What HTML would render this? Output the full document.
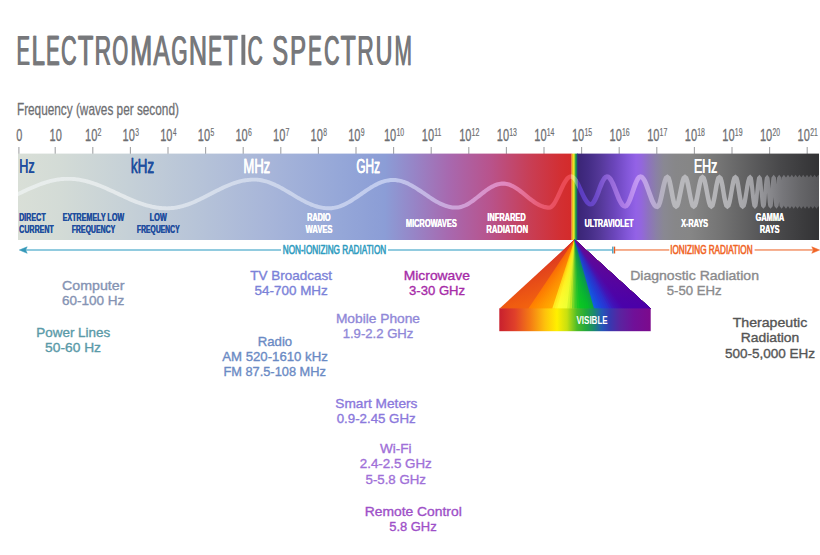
<!DOCTYPE html>
<html><head><meta charset="utf-8"><title>Electromagnetic Spectrum</title>
<style>html,body{margin:0;padding:0;background:#fff;}body{width:820px;height:555px;overflow:hidden;font-family:"Liberation Sans",sans-serif;}svg{display:block;}text{font-family:"Liberation Sans",sans-serif;}</style>
</head><body>
<svg width="820" height="555" viewBox="0 0 820 555">
<defs>
<linearGradient id="gL" gradientUnits="userSpaceOnUse" x1="18" y1="0" x2="571" y2="0"><stop offset="0.0000" stop-color="#d9dfd7"/><stop offset="0.0759" stop-color="#d3dbd6"/><stop offset="0.2025" stop-color="#c5d0d7"/><stop offset="0.3291" stop-color="#b6c3d8"/><stop offset="0.4557" stop-color="#a7b5d9"/><stop offset="0.5823" stop-color="#95a7d8"/><stop offset="0.6637" stop-color="#8b9dd6"/><stop offset="0.7179" stop-color="#9784c6"/><stop offset="0.7812" stop-color="#a868ae"/><stop offset="0.8535" stop-color="#b8538c"/><stop offset="0.9259" stop-color="#c83e55"/><stop offset="0.9801" stop-color="#d22f33"/><stop offset="1.0000" stop-color="#d42b2b"/></linearGradient>
<linearGradient id="gS" gradientUnits="userSpaceOnUse" x1="571.3" y1="0" x2="577.6" y2="0"><stop offset="0.0000" stop-color="#e0702a"/><stop offset="0.1587" stop-color="#f0b01e"/><stop offset="0.3651" stop-color="#ece428"/><stop offset="0.5238" stop-color="#a8d030"/><stop offset="0.6825" stop-color="#2ca444"/><stop offset="0.8413" stop-color="#1c7a58"/><stop offset="1.0000" stop-color="#2a3a80"/></linearGradient>
<linearGradient id="gR" gradientUnits="userSpaceOnUse" x1="577.5" y1="0" x2="819" y2="0"><stop offset="0.0000" stop-color="#3a2575"/><stop offset="0.0435" stop-color="#432c84"/><stop offset="0.0932" stop-color="#543898"/><stop offset="0.1553" stop-color="#6c46bc"/><stop offset="0.2091" stop-color="#8458da"/><stop offset="0.2422" stop-color="#9362e6"/><stop offset="0.2629" stop-color="#9366de"/><stop offset="0.2919" stop-color="#8e72c0"/><stop offset="0.3251" stop-color="#8a80a6"/><stop offset="0.3582" stop-color="#898892"/><stop offset="0.4037" stop-color="#878789"/><stop offset="0.4658" stop-color="#868686"/><stop offset="0.5901" stop-color="#747474"/><stop offset="0.7143" stop-color="#5e5e5f"/><stop offset="0.8385" stop-color="#48484a"/><stop offset="0.9420" stop-color="#3a3a3c"/><stop offset="1.0000" stop-color="#333335"/></linearGradient>
<linearGradient id="gW" gradientUnits="userSpaceOnUse" x1="18" y1="0" x2="819" y2="0"><stop offset="0.0000" stop-color="#e9eeec"/><stop offset="0.1273" stop-color="#e4e9eb"/><stop offset="0.2272" stop-color="#d7dfeb"/><stop offset="0.3521" stop-color="#c8d2eb"/><stop offset="0.4644" stop-color="#bfcaee"/><stop offset="0.5144" stop-color="#c4b2e2"/><stop offset="0.5643" stop-color="#d29ad2"/><stop offset="0.6080" stop-color="#e088c0"/><stop offset="0.6517" stop-color="#e85c74"/><stop offset="0.6792" stop-color="#ea4a56"/><stop offset="0.6901" stop-color="#ec4a50"/><stop offset="0.6909" stop-color="#ffffff" stop-opacity="0.32"/><stop offset="0.6984" stop-color="#ffffff" stop-opacity="0.3"/><stop offset="0.6994" stop-color="#5234b4"/><stop offset="0.7016" stop-color="#5a3cc0"/><stop offset="0.7203" stop-color="#6a48c8"/><stop offset="0.7391" stop-color="#9468d8"/><stop offset="0.7578" stop-color="#b07ee8"/><stop offset="0.7740" stop-color="#c49af4"/><stop offset="0.7890" stop-color="#bca8dc"/><stop offset="0.8040" stop-color="#b4b0c0"/><stop offset="0.8165" stop-color="#b8b8bc"/><stop offset="0.8514" stop-color="#b8b8bb"/><stop offset="0.8889" stop-color="#b0b0b3"/><stop offset="0.9201" stop-color="#a0a0a4"/><stop offset="0.9388" stop-color="#88888c"/><stop offset="0.9538" stop-color="#77777b"/><stop offset="0.9763" stop-color="#666669"/><stop offset="1.0000" stop-color="#58585b"/></linearGradient>
<linearGradient id="gV" gradientUnits="userSpaceOnUse" x1="499.3" y1="0" x2="650.7" y2="0"><stop offset="0.0000" stop-color="#c8202e"/><stop offset="0.1037" stop-color="#e0402a"/><stop offset="0.2028" stop-color="#f47a14"/><stop offset="0.3018" stop-color="#fec20c"/><stop offset="0.3811" stop-color="#fff000"/><stop offset="0.4472" stop-color="#c8e010"/><stop offset="0.5132" stop-color="#4cbc28"/><stop offset="0.5727" stop-color="#22a83c"/><stop offset="0.6255" stop-color="#1a8870"/><stop offset="0.6783" stop-color="#2458b8"/><stop offset="0.7312" stop-color="#3838b0"/><stop offset="0.7972" stop-color="#5a24a0"/><stop offset="0.8897" stop-color="#701098"/><stop offset="1.0000" stop-color="#7c0a8c"/></linearGradient>
<clipPath id="cb"><rect x="18" y="153.6" width="801" height="86.4"/></clipPath>
</defs>
<text transform="translate(16.36,64.80) scale(0.4587,1)" font-size="43.4" fill="#77787b" font-weight="normal" stroke="#77787b" stroke-width="0.25" stroke-linejoin="round">E</text><text transform="translate(17.06,64.80) scale(0.4587,1)" font-size="43.4" fill="#77787b" font-weight="normal" stroke="#77787b" stroke-width="0.25" stroke-linejoin="round">E</text>
<text transform="translate(31.27,64.80) scale(0.5525,1)" font-size="43.4" fill="#77787b" font-weight="normal" stroke="#77787b" stroke-width="0.25" stroke-linejoin="round">L</text><text transform="translate(31.97,64.80) scale(0.5525,1)" font-size="43.4" fill="#77787b" font-weight="normal" stroke="#77787b" stroke-width="0.25" stroke-linejoin="round">L</text>
<text transform="translate(45.82,64.80) scale(0.4693,1)" font-size="43.4" fill="#77787b" font-weight="normal" stroke="#77787b" stroke-width="0.25" stroke-linejoin="round">E</text><text transform="translate(46.52,64.80) scale(0.4693,1)" font-size="43.4" fill="#77787b" font-weight="normal" stroke="#77787b" stroke-width="0.25" stroke-linejoin="round">E</text>
<text transform="translate(60.66,64.80) scale(0.5027,1)" font-size="43.4" fill="#77787b" font-weight="normal" stroke="#77787b" stroke-width="0.25" stroke-linejoin="round">C</text><text transform="translate(61.36,64.80) scale(0.5027,1)" font-size="43.4" fill="#77787b" font-weight="normal" stroke="#77787b" stroke-width="0.25" stroke-linejoin="round">C</text>
<text transform="translate(77.43,64.80) scale(0.5832,1)" font-size="43.4" fill="#77787b" font-weight="normal" stroke="#77787b" stroke-width="0.25" stroke-linejoin="round">T</text><text transform="translate(78.13,64.80) scale(0.5832,1)" font-size="43.4" fill="#77787b" font-weight="normal" stroke="#77787b" stroke-width="0.25" stroke-linejoin="round">T</text>
<text transform="translate(94.36,64.80) scale(0.5269,1)" font-size="43.4" fill="#77787b" font-weight="normal" stroke="#77787b" stroke-width="0.25" stroke-linejoin="round">R</text><text transform="translate(95.06,64.80) scale(0.5269,1)" font-size="43.4" fill="#77787b" font-weight="normal" stroke="#77787b" stroke-width="0.25" stroke-linejoin="round">R</text>
<text transform="translate(112.04,64.80) scale(0.4659,1)" font-size="43.4" fill="#77787b" font-weight="normal" stroke="#77787b" stroke-width="0.25" stroke-linejoin="round">O</text><text transform="translate(112.74,64.80) scale(0.4659,1)" font-size="43.4" fill="#77787b" font-weight="normal" stroke="#77787b" stroke-width="0.25" stroke-linejoin="round">O</text>
<text transform="translate(129.80,64.80) scale(0.6144,1)" font-size="43.4" fill="#77787b" font-weight="normal" stroke="#77787b" stroke-width="0.25" stroke-linejoin="round">M</text><text transform="translate(130.50,64.80) scale(0.6144,1)" font-size="43.4" fill="#77787b" font-weight="normal" stroke="#77787b" stroke-width="0.25" stroke-linejoin="round">M</text>
<text transform="translate(152.94,64.80) scale(0.5669,1)" font-size="43.4" fill="#77787b" font-weight="normal" stroke="#77787b" stroke-width="0.25" stroke-linejoin="round">A</text><text transform="translate(153.64,64.80) scale(0.5669,1)" font-size="43.4" fill="#77787b" font-weight="normal" stroke="#77787b" stroke-width="0.25" stroke-linejoin="round">A</text>
<text transform="translate(170.96,64.80) scale(0.4785,1)" font-size="43.4" fill="#77787b" font-weight="normal" stroke="#77787b" stroke-width="0.25" stroke-linejoin="round">G</text><text transform="translate(171.66,64.80) scale(0.4785,1)" font-size="43.4" fill="#77787b" font-weight="normal" stroke="#77787b" stroke-width="0.25" stroke-linejoin="round">G</text>
<text transform="translate(188.43,64.80) scale(0.5786,1)" font-size="43.4" fill="#77787b" font-weight="normal" stroke="#77787b" stroke-width="0.25" stroke-linejoin="round">N</text><text transform="translate(189.13,64.80) scale(0.5786,1)" font-size="43.4" fill="#77787b" font-weight="normal" stroke="#77787b" stroke-width="0.25" stroke-linejoin="round">N</text>
<text transform="translate(207.68,64.80) scale(0.4799,1)" font-size="43.4" fill="#77787b" font-weight="normal" stroke="#77787b" stroke-width="0.25" stroke-linejoin="round">E</text><text transform="translate(208.38,64.80) scale(0.4799,1)" font-size="43.4" fill="#77787b" font-weight="normal" stroke="#77787b" stroke-width="0.25" stroke-linejoin="round">E</text>
<text transform="translate(223.07,64.80) scale(0.5424,1)" font-size="43.4" fill="#77787b" font-weight="normal" stroke="#77787b" stroke-width="0.25" stroke-linejoin="round">T</text><text transform="translate(223.77,64.80) scale(0.5424,1)" font-size="43.4" fill="#77787b" font-weight="normal" stroke="#77787b" stroke-width="0.25" stroke-linejoin="round">T</text>
<rect x="241.40" y="34.8" width="3.90" height="30.1" fill="#77787b"/>
<text transform="translate(247.26,64.80) scale(0.4809,1)" font-size="43.4" fill="#77787b" font-weight="normal" stroke="#77787b" stroke-width="0.25" stroke-linejoin="round">C</text><text transform="translate(247.96,64.80) scale(0.4809,1)" font-size="43.4" fill="#77787b" font-weight="normal" stroke="#77787b" stroke-width="0.25" stroke-linejoin="round">C</text>
<text transform="translate(271.94,64.80) scale(0.5410,1)" font-size="43.4" fill="#77787b" font-weight="normal" stroke="#77787b" stroke-width="0.25" stroke-linejoin="round">S</text><text transform="translate(272.64,64.80) scale(0.5410,1)" font-size="43.4" fill="#77787b" font-weight="normal" stroke="#77787b" stroke-width="0.25" stroke-linejoin="round">S</text>
<text transform="translate(289.83,64.80) scale(0.5495,1)" font-size="43.4" fill="#77787b" font-weight="normal" stroke="#77787b" stroke-width="0.25" stroke-linejoin="round">P</text><text transform="translate(290.53,64.80) scale(0.5495,1)" font-size="43.4" fill="#77787b" font-weight="normal" stroke="#77787b" stroke-width="0.25" stroke-linejoin="round">P</text>
<text transform="translate(307.81,64.80) scale(0.4714,1)" font-size="43.4" fill="#77787b" font-weight="normal" stroke="#77787b" stroke-width="0.25" stroke-linejoin="round">E</text><text transform="translate(308.51,64.80) scale(0.4714,1)" font-size="43.4" fill="#77787b" font-weight="normal" stroke="#77787b" stroke-width="0.25" stroke-linejoin="round">E</text>
<text transform="translate(323.73,64.80) scale(0.4918,1)" font-size="43.4" fill="#77787b" font-weight="normal" stroke="#77787b" stroke-width="0.25" stroke-linejoin="round">C</text><text transform="translate(324.43,64.80) scale(0.4918,1)" font-size="43.4" fill="#77787b" font-weight="normal" stroke="#77787b" stroke-width="0.25" stroke-linejoin="round">C</text>
<text transform="translate(340.34,64.80) scale(0.5709,1)" font-size="43.4" fill="#77787b" font-weight="normal" stroke="#77787b" stroke-width="0.25" stroke-linejoin="round">T</text><text transform="translate(341.04,64.80) scale(0.5709,1)" font-size="43.4" fill="#77787b" font-weight="normal" stroke="#77787b" stroke-width="0.25" stroke-linejoin="round">T</text>
<text transform="translate(356.91,64.80) scale(0.5289,1)" font-size="43.4" fill="#77787b" font-weight="normal" stroke="#77787b" stroke-width="0.25" stroke-linejoin="round">R</text><text transform="translate(357.61,64.80) scale(0.5289,1)" font-size="43.4" fill="#77787b" font-weight="normal" stroke="#77787b" stroke-width="0.25" stroke-linejoin="round">R</text>
<text transform="translate(375.30,64.80) scale(0.5359,1)" font-size="43.4" fill="#77787b" font-weight="normal" stroke="#77787b" stroke-width="0.25" stroke-linejoin="round">U</text><text transform="translate(376.00,64.80) scale(0.5359,1)" font-size="43.4" fill="#77787b" font-weight="normal" stroke="#77787b" stroke-width="0.25" stroke-linejoin="round">U</text>
<text transform="translate(394.17,64.80) scale(0.4833,1)" font-size="43.4" fill="#77787b" font-weight="normal" stroke="#77787b" stroke-width="0.25" stroke-linejoin="round">M</text><text transform="translate(394.87,64.80) scale(0.4833,1)" font-size="43.4" fill="#77787b" font-weight="normal" stroke="#77787b" stroke-width="0.25" stroke-linejoin="round">M</text>
<text transform="translate(16.93,115.10) scale(0.6783,1)" font-size="17.4" fill="#6d6e71" font-weight="normal" stroke="#6d6e71" stroke-width="0.3" stroke-linejoin="round">Frequency (waves per second)</text>
<rect x="18.35" y="147" width="1.1" height="7" fill="#a3a4a6"/>
<text transform="translate(16.26,141.20) scale(0.6331,1)" font-size="17.2" fill="#6d6e71" font-weight="normal" stroke="#6d6e71" stroke-width="0.3" stroke-linejoin="round">0</text>
<rect x="54.65" y="147" width="1.1" height="7" fill="#a3a4a6"/>
<text transform="translate(49.57,141.20) scale(0.6411,1)" font-size="17.2" fill="#6d6e71" font-weight="normal" stroke="#6d6e71" stroke-width="0.3" stroke-linejoin="round">10</text>
<rect x="92.25" y="147" width="1.1" height="7" fill="#a3a4a6"/>
<text transform="translate(85.02,141.20) scale(0.6411,1)" font-size="17.2" fill="#6d6e71" font-weight="normal" stroke="#6d6e71" stroke-width="0.3" stroke-linejoin="round">10</text>
<text transform="translate(97.60,136.30) scale(0.6279,1)" font-size="11.2" fill="#6d6e71" font-weight="normal" stroke="#6d6e71" stroke-width="0.2" stroke-linejoin="round">2</text>
<rect x="129.85" y="147" width="1.1" height="7" fill="#a3a4a6"/>
<text transform="translate(122.62,141.20) scale(0.6411,1)" font-size="17.2" fill="#6d6e71" font-weight="normal" stroke="#6d6e71" stroke-width="0.3" stroke-linejoin="round">10</text>
<text transform="translate(135.30,136.30) scale(0.6015,1)" font-size="11.2" fill="#6d6e71" font-weight="normal" stroke="#6d6e71" stroke-width="0.2" stroke-linejoin="round">3</text>
<rect x="167.45" y="147" width="1.1" height="7" fill="#a3a4a6"/>
<text transform="translate(160.22,141.20) scale(0.6411,1)" font-size="17.2" fill="#6d6e71" font-weight="normal" stroke="#6d6e71" stroke-width="0.3" stroke-linejoin="round">10</text>
<text transform="translate(173.01,136.30) scale(0.5658,1)" font-size="11.2" fill="#6d6e71" font-weight="normal" stroke="#6d6e71" stroke-width="0.2" stroke-linejoin="round">4</text>
<rect x="205.05" y="147" width="1.1" height="7" fill="#a3a4a6"/>
<text transform="translate(197.82,141.20) scale(0.6411,1)" font-size="17.2" fill="#6d6e71" font-weight="normal" stroke="#6d6e71" stroke-width="0.3" stroke-linejoin="round">10</text>
<text transform="translate(210.48,136.30) scale(0.6015,1)" font-size="11.2" fill="#6d6e71" font-weight="normal" stroke="#6d6e71" stroke-width="0.2" stroke-linejoin="round">5</text>
<rect x="242.65" y="147" width="1.1" height="7" fill="#a3a4a6"/>
<text transform="translate(235.42,141.20) scale(0.6411,1)" font-size="17.2" fill="#6d6e71" font-weight="normal" stroke="#6d6e71" stroke-width="0.3" stroke-linejoin="round">10</text>
<text transform="translate(248.00,136.30) scale(0.6178,1)" font-size="11.2" fill="#6d6e71" font-weight="normal" stroke="#6d6e71" stroke-width="0.2" stroke-linejoin="round">6</text>
<rect x="280.25" y="147" width="1.1" height="7" fill="#a3a4a6"/>
<text transform="translate(273.02,141.20) scale(0.6411,1)" font-size="17.2" fill="#6d6e71" font-weight="normal" stroke="#6d6e71" stroke-width="0.3" stroke-linejoin="round">10</text>
<text transform="translate(285.58,136.30) scale(0.6314,1)" font-size="11.2" fill="#6d6e71" font-weight="normal" stroke="#6d6e71" stroke-width="0.2" stroke-linejoin="round">7</text>
<rect x="317.85" y="147" width="1.1" height="7" fill="#a3a4a6"/>
<text transform="translate(310.62,141.20) scale(0.6411,1)" font-size="17.2" fill="#6d6e71" font-weight="normal" stroke="#6d6e71" stroke-width="0.3" stroke-linejoin="round">10</text>
<text transform="translate(323.26,136.30) scale(0.6079,1)" font-size="11.2" fill="#6d6e71" font-weight="normal" stroke="#6d6e71" stroke-width="0.2" stroke-linejoin="round">8</text>
<rect x="355.45" y="147" width="1.1" height="7" fill="#a3a4a6"/>
<text transform="translate(348.22,141.20) scale(0.6411,1)" font-size="17.2" fill="#6d6e71" font-weight="normal" stroke="#6d6e71" stroke-width="0.3" stroke-linejoin="round">10</text>
<text transform="translate(360.82,136.30) scale(0.6178,1)" font-size="11.2" fill="#6d6e71" font-weight="normal" stroke="#6d6e71" stroke-width="0.2" stroke-linejoin="round">9</text>
<rect x="393.05" y="147" width="1.1" height="7" fill="#a3a4a6"/>
<text transform="translate(383.97,141.20) scale(0.6411,1)" font-size="17.2" fill="#6d6e71" font-weight="normal" stroke="#6d6e71" stroke-width="0.3" stroke-linejoin="round">10</text>
<text transform="translate(396.38,136.30) scale(0.6176,1)" font-size="11.2" fill="#6d6e71" font-weight="normal" stroke="#6d6e71" stroke-width="0.2" stroke-linejoin="round">10</text>
<rect x="430.65" y="147" width="1.1" height="7" fill="#a3a4a6"/>
<text transform="translate(421.87,141.20) scale(0.6411,1)" font-size="17.2" fill="#6d6e71" font-weight="normal" stroke="#6d6e71" stroke-width="0.3" stroke-linejoin="round">10</text>
<text transform="translate(434.28,136.30) scale(0.6148,1)" font-size="11.2" fill="#6d6e71" font-weight="normal" stroke="#6d6e71" stroke-width="0.2" stroke-linejoin="round">11</text>
<rect x="468.25" y="147" width="1.1" height="7" fill="#a3a4a6"/>
<text transform="translate(459.17,141.20) scale(0.6411,1)" font-size="17.2" fill="#6d6e71" font-weight="normal" stroke="#6d6e71" stroke-width="0.3" stroke-linejoin="round">10</text>
<text transform="translate(471.57,136.30) scale(0.6255,1)" font-size="11.2" fill="#6d6e71" font-weight="normal" stroke="#6d6e71" stroke-width="0.2" stroke-linejoin="round">12</text>
<rect x="505.85" y="147" width="1.1" height="7" fill="#a3a4a6"/>
<text transform="translate(496.77,141.20) scale(0.6411,1)" font-size="17.2" fill="#6d6e71" font-weight="normal" stroke="#6d6e71" stroke-width="0.3" stroke-linejoin="round">10</text>
<text transform="translate(509.18,136.30) scale(0.6207,1)" font-size="11.2" fill="#6d6e71" font-weight="normal" stroke="#6d6e71" stroke-width="0.2" stroke-linejoin="round">13</text>
<rect x="543.45" y="147" width="1.1" height="7" fill="#a3a4a6"/>
<text transform="translate(534.37,141.20) scale(0.6411,1)" font-size="17.2" fill="#6d6e71" font-weight="normal" stroke="#6d6e71" stroke-width="0.3" stroke-linejoin="round">10</text>
<text transform="translate(546.79,136.30) scale(0.6115,1)" font-size="11.2" fill="#6d6e71" font-weight="normal" stroke="#6d6e71" stroke-width="0.2" stroke-linejoin="round">14</text>
<rect x="581.05" y="147" width="1.1" height="7" fill="#a3a4a6"/>
<text transform="translate(571.97,141.20) scale(0.6411,1)" font-size="17.2" fill="#6d6e71" font-weight="normal" stroke="#6d6e71" stroke-width="0.3" stroke-linejoin="round">10</text>
<text transform="translate(584.38,136.30) scale(0.6192,1)" font-size="11.2" fill="#6d6e71" font-weight="normal" stroke="#6d6e71" stroke-width="0.2" stroke-linejoin="round">15</text>
<rect x="618.65" y="147" width="1.1" height="7" fill="#a3a4a6"/>
<text transform="translate(609.57,141.20) scale(0.6411,1)" font-size="17.2" fill="#6d6e71" font-weight="normal" stroke="#6d6e71" stroke-width="0.3" stroke-linejoin="round">10</text>
<text transform="translate(621.98,136.30) scale(0.6207,1)" font-size="11.2" fill="#6d6e71" font-weight="normal" stroke="#6d6e71" stroke-width="0.2" stroke-linejoin="round">16</text>
<rect x="656.25" y="147" width="1.1" height="7" fill="#a3a4a6"/>
<text transform="translate(647.17,141.20) scale(0.6411,1)" font-size="17.2" fill="#6d6e71" font-weight="normal" stroke="#6d6e71" stroke-width="0.3" stroke-linejoin="round">10</text>
<text transform="translate(659.57,136.30) scale(0.6255,1)" font-size="11.2" fill="#6d6e71" font-weight="normal" stroke="#6d6e71" stroke-width="0.2" stroke-linejoin="round">17</text>
<rect x="693.85" y="147" width="1.1" height="7" fill="#a3a4a6"/>
<text transform="translate(684.77,141.20) scale(0.6411,1)" font-size="17.2" fill="#6d6e71" font-weight="normal" stroke="#6d6e71" stroke-width="0.3" stroke-linejoin="round">10</text>
<text transform="translate(697.18,136.30) scale(0.6207,1)" font-size="11.2" fill="#6d6e71" font-weight="normal" stroke="#6d6e71" stroke-width="0.2" stroke-linejoin="round">18</text>
<rect x="731.45" y="147" width="1.1" height="7" fill="#a3a4a6"/>
<text transform="translate(722.37,141.20) scale(0.6411,1)" font-size="17.2" fill="#6d6e71" font-weight="normal" stroke="#6d6e71" stroke-width="0.3" stroke-linejoin="round">10</text>
<text transform="translate(734.78,136.30) scale(0.6223,1)" font-size="11.2" fill="#6d6e71" font-weight="normal" stroke="#6d6e71" stroke-width="0.2" stroke-linejoin="round">19</text>
<rect x="769.05" y="147" width="1.1" height="7" fill="#a3a4a6"/>
<text transform="translate(759.97,141.20) scale(0.6411,1)" font-size="17.2" fill="#6d6e71" font-weight="normal" stroke="#6d6e71" stroke-width="0.3" stroke-linejoin="round">10</text>
<text transform="translate(772.56,136.30) scale(0.6025,1)" font-size="11.2" fill="#6d6e71" font-weight="normal" stroke="#6d6e71" stroke-width="0.2" stroke-linejoin="round">20</text>
<rect x="806.65" y="147" width="1.1" height="7" fill="#a3a4a6"/>
<text transform="translate(797.57,141.20) scale(0.6411,1)" font-size="17.2" fill="#6d6e71" font-weight="normal" stroke="#6d6e71" stroke-width="0.3" stroke-linejoin="round">10</text>
<text transform="translate(810.16,136.30) scale(0.6085,1)" font-size="11.2" fill="#6d6e71" font-weight="normal" stroke="#6d6e71" stroke-width="0.2" stroke-linejoin="round">21</text>
<rect x="18" y="153.6" width="553.5" height="86.4" fill="url(#gL)"/>
<rect x="577" y="153.6" width="242" height="86.4" fill="url(#gR)"/>
<rect x="571.3" y="153.6" width="6.5" height="86.4" fill="url(#gS)"/>
<g clip-path="url(#cb)"><path d="M16.8,196.7 L18.0,196.2 L19.2,195.6 L20.4,195.0 L21.6,194.5 L22.9,193.9 L24.1,193.3 L25.3,192.8 L26.5,192.2 L27.7,191.6 L28.9,191.1 L30.1,190.6 L31.3,190.0 L32.5,189.5 L33.7,189.0 L34.9,188.5 L36.1,188.0 L37.3,187.5 L38.5,187.0 L39.7,186.6 L40.8,186.1 L42.0,185.7 L43.2,185.3 L44.4,184.9 L45.6,184.5 L46.8,184.1 L48.0,183.8 L49.2,183.4 L50.3,183.1 L51.5,182.8 L52.7,182.5 L53.9,182.3 L55.1,182.0 L56.2,181.8 L57.4,181.6 L58.6,181.4 L59.8,181.3 L61.0,181.1 L62.1,181.0 L63.3,180.9 L64.5,180.8 L65.7,180.8 L66.8,180.8 L68.0,180.7 L69.2,180.8 L70.3,180.8 L71.5,180.8 L72.7,180.9 L73.9,181.0 L75.0,181.1 L76.2,181.3 L77.4,181.4 L78.6,181.6 L79.7,181.8 L80.9,182.0 L82.1,182.2 L83.3,182.5 L84.4,182.8 L85.6,183.1 L86.8,183.4 L88.0,183.7 L89.2,184.0 L90.4,184.4 L91.5,184.8 L92.7,185.2 L93.9,185.6 L95.1,186.0 L96.3,186.4 L97.5,186.9 L98.7,187.3 L99.9,187.8 L101.1,188.3 L102.3,188.8 L103.5,189.3 L104.7,189.8 L105.8,190.3 L107.0,190.9 L108.2,191.4 L109.4,192.0 L110.6,192.5 L111.9,193.1 L113.1,193.6 L114.3,194.2 L115.5,194.8 L116.7,195.3 L117.9,195.9 L119.1,196.4 L120.3,197.0 L121.5,197.6 L122.7,198.1 L123.9,198.7 L125.1,199.2 L126.4,199.8 L127.6,200.3 L128.8,200.9 L130.0,201.4 L131.2,201.9 L132.5,202.4 L133.7,202.9 L134.9,203.4 L136.1,203.9 L137.3,204.3 L138.6,204.8 L139.8,205.2 L141.0,205.6 L142.3,206.0 L143.5,206.4 L144.7,206.8 L145.9,207.2 L147.2,207.5 L148.4,207.8 L149.6,208.1 L150.9,208.4 L152.1,208.7 L153.4,208.9 L154.6,209.2 L155.8,209.4 L157.1,209.5 L158.3,209.7 L159.5,209.9 L160.8,210.0 L162.0,210.1 L163.3,210.1 L164.5,210.2 L165.8,210.2 L167.0,210.2 L168.3,210.2 L169.5,210.2 L170.8,210.1 L172.0,210.0 L173.3,209.9 L174.5,209.7 L175.8,209.6 L177.0,209.4 L178.3,209.1 L179.5,208.9 L180.7,208.6 L182.0,208.3 L183.2,207.9 L184.5,207.6 L185.7,207.2 L186.9,206.8 L188.2,206.4 L189.4,205.9 L190.7,205.5 L191.9,205.0 L193.1,204.5 L194.3,204.0 L195.6,203.4 L196.8,202.9 L198.0,202.3 L199.2,201.8 L200.5,201.2 L201.7,200.6 L202.9,200.0 L204.1,199.4 L205.3,198.8 L206.6,198.2 L207.8,197.6 L209.0,196.9 L210.2,196.3 L211.4,195.7 L212.6,195.1 L213.8,194.4 L215.0,193.8 L216.2,193.2 L217.4,192.6 L218.6,192.0 L219.8,191.4 L221.0,190.8 L222.2,190.2 L223.4,189.7 L224.6,189.1 L225.8,188.6 L227.0,188.0 L228.2,187.5 L229.4,187.0 L230.6,186.5 L231.7,186.1 L232.9,185.6 L234.1,185.2 L235.3,184.8 L236.5,184.4 L237.6,184.1 L238.8,183.7 L240.0,183.4 L241.2,183.1 L242.3,182.8 L243.5,182.6 L244.7,182.4 L245.8,182.2 L247.0,182.0 L248.2,181.9 L249.3,181.8 L250.5,181.7 L251.7,181.6 L252.8,181.6 L254.0,181.5 L255.2,181.6 L256.3,181.6 L257.5,181.7 L258.6,181.8 L259.8,182.0 L260.9,182.2 L262.1,182.4 L263.2,182.7 L264.4,183.0 L265.6,183.3 L266.7,183.6 L267.9,184.0 L269.1,184.4 L270.2,184.9 L271.4,185.4 L272.6,185.9 L273.8,186.4 L274.9,186.9 L276.1,187.5 L277.3,188.1 L278.5,188.7 L279.7,189.3 L280.9,190.0 L282.1,190.7 L283.3,191.3 L284.5,192.0 L285.7,192.7 L286.9,193.5 L288.1,194.2 L289.3,194.9 L290.5,195.6 L291.7,196.3 L292.9,197.1 L294.1,197.8 L295.3,198.5 L296.6,199.2 L297.8,199.9 L299.0,200.6 L300.2,201.3 L301.5,202.0 L302.7,202.6 L303.9,203.3 L305.2,203.9 L306.4,204.5 L307.6,205.1 L308.9,205.6 L310.1,206.2 L311.4,206.7 L312.6,207.1 L313.8,207.6 L315.1,208.0 L316.4,208.4 L317.6,208.7 L318.9,209.0 L320.1,209.3 L321.4,209.6 L322.7,209.8 L323.9,210.0 L325.2,210.1 L326.5,210.2 L327.7,210.2 L329.0,210.3 L330.3,210.2 L331.6,210.2 L332.9,210.0 L334.1,209.8 L335.4,209.6 L336.7,209.3 L338.0,209.0 L339.3,208.6 L340.5,208.2 L341.8,207.7 L343.0,207.2 L344.3,206.7 L345.6,206.1 L346.8,205.5 L348.0,204.8 L349.3,204.1 L350.5,203.4 L351.8,202.7 L353.0,201.9 L354.2,201.1 L355.4,200.3 L356.7,199.5 L357.9,198.7 L359.1,197.9 L360.3,197.0 L361.5,196.2 L362.7,195.4 L363.9,194.5 L365.1,193.7 L366.3,192.9 L367.5,192.1 L368.7,191.3 L369.9,190.5 L371.1,189.7 L372.3,189.0 L373.5,188.3 L374.7,187.6 L375.8,187.0 L377.0,186.4 L378.2,185.8 L379.3,185.2 L380.5,184.7 L381.6,184.3 L382.8,183.8 L383.9,183.5 L385.1,183.1 L386.2,182.8 L387.4,182.6 L388.5,182.4 L389.6,182.2 L390.7,182.1 L391.9,182.0 L393.0,182.0 L394.1,182.0 L395.3,182.1 L396.4,182.2 L397.5,182.4 L398.7,182.6 L399.8,182.8 L400.9,183.1 L402.1,183.5 L403.2,183.9 L404.4,184.3 L405.5,184.8 L406.7,185.3 L407.9,185.8 L409.0,186.4 L410.2,187.1 L411.4,187.7 L412.6,188.4 L413.8,189.1 L415.0,189.8 L416.1,190.6 L417.3,191.4 L418.5,192.2 L419.7,193.0 L420.9,193.8 L422.1,194.6 L423.4,195.5 L424.6,196.3 L425.8,197.1 L427.0,198.0 L428.2,198.8 L429.5,199.6 L430.7,200.4 L431.9,201.2 L433.1,201.9 L434.4,202.7 L435.6,203.4 L436.9,204.1 L438.1,204.7 L439.4,205.4 L440.6,206.0 L441.9,206.5 L443.1,207.0 L444.4,207.5 L445.7,207.9 L447.0,208.3 L448.3,208.7 L449.5,209.0 L450.8,209.2 L452.1,209.4 L453.4,209.5 L454.7,209.6 L456.0,209.6 L457.3,209.6 L458.7,209.5 L460.0,209.2 L461.3,209.0 L462.6,208.6 L463.9,208.1 L465.2,207.6 L466.5,207.0 L467.8,206.4 L469.1,205.7 L470.3,204.9 L471.6,204.1 L472.8,203.3 L474.1,202.4 L475.3,201.5 L476.5,200.6 L477.7,199.6 L479.0,198.6 L480.2,197.7 L481.4,196.7 L482.6,195.8 L483.8,194.8 L485.0,193.9 L486.1,193.0 L487.3,192.1 L488.5,191.3 L489.7,190.5 L490.8,189.7 L492.0,189.1 L493.1,188.4 L494.2,187.9 L495.4,187.3 L496.5,186.9 L497.6,186.5 L498.7,186.2 L499.8,186.0 L500.9,185.8 L501.9,185.7 L503.0,185.7 L504.1,185.7 L505.1,185.8 L506.2,186.0 L507.3,186.2 L508.4,186.6 L509.5,187.0 L510.6,187.4 L511.8,188.0 L512.9,188.6 L514.0,189.3 L515.2,190.0 L516.3,190.8 L517.5,191.6 L518.7,192.5 L519.9,193.4 L521.1,194.3 L522.3,195.3 L523.5,196.2 L524.7,197.2 L525.9,198.2 L527.1,199.2 L528.3,200.2 L529.5,201.2 L530.8,202.1 L532.0,203.0 L533.3,203.9 L534.5,204.8 L535.8,205.5 L537.1,206.3 L538.4,207.0 L539.7,207.6 L541.0,208.1 L542.3,208.6 L543.6,209.0 L544.9,209.3 L546.3,209.6 L547.6,209.7 L549.2,209.7 L551.0,209.4 L552.7,208.4 L554.3,207.0 L555.7,205.2 L557.0,203.1 L558.2,200.8 L559.5,198.3 L560.7,195.7 L562.0,192.9 L563.2,190.3 L564.4,187.7 L565.6,185.3 L566.8,183.2 L567.9,181.4 L569.0,180.0 L569.9,179.2 L570.6,178.8 L571.0,178.7 L571.4,178.8 L572.0,179.2 L573.0,180.2 L574.1,181.8 L575.2,183.7 L576.4,186.1 L577.6,188.6 L578.8,191.3 L580.0,194.1 L581.3,196.7 L582.5,199.2 L583.9,201.5 L585.2,203.4 L586.8,205.0 L588.6,206.2 L590.8,206.6 L593.2,205.9 L595.0,204.2 L596.5,202.0 L597.9,199.3 L599.2,196.3 L600.5,193.0 L601.7,189.6 L603.0,186.4 L604.2,183.6 L605.3,181.3 L606.4,179.7 L607.0,179.0 L607.1,179.0 L607.1,179.0 L607.7,179.5 L608.6,180.8 L609.7,182.6 L610.8,185.0 L612.0,187.8 L613.2,190.8 L614.4,193.9 L615.6,196.9 L616.8,199.9 L618.1,202.5 L619.4,204.8 L620.9,206.7 L622.7,208.1 L625.2,208.7 L627.8,207.7 L629.6,205.6 L631.0,203.0 L632.4,199.7 L633.7,196.1 L635.0,192.2 L636.3,188.4 L637.6,184.9 L638.8,182.0 L639.9,179.9 L640.7,179.0 L640.6,179.0 L640.5,179.0 L641.2,179.8 L642.3,181.6 L643.5,184.1 L644.7,187.3 L646.0,190.8 L647.3,194.4 L648.6,198.0 L649.9,201.4 L651.3,204.3 L652.8,206.7 L654.7,208.5 L657.9,209.3 L660.6,207.0 L662.1,203.2 L663.4,198.2 L664.7,192.3 L665.9,186.5 L667.1,181.7 L668.2,178.9 L667.4,178.9 L666.4,178.8 L667.3,181.6 L668.3,186.4 L669.4,192.2 L670.5,198.1 L671.6,203.1 L672.9,206.8 L676.0,209.3 L679.2,206.9 L680.5,203.2 L681.6,198.1 L682.8,192.2 L683.9,186.5 L685.0,181.7 L685.9,178.8 L685.0,178.9 L684.1,178.8 L685.0,181.6 L686.1,186.4 L687.2,192.2 L688.3,198.1 L689.4,203.1 L690.7,206.9 L693.8,209.3 L696.9,206.8 L698.2,203.1 L699.3,198.1 L700.4,192.2 L701.5,186.4 L702.5,181.6 L703.4,178.7 L702.5,178.9 L701.6,178.8 L702.5,181.6 L703.6,186.4 L704.7,192.2 L705.8,198.1 L706.9,203.1 L708.2,206.8 L711.3,209.2 L714.4,206.8 L715.5,203.1 L716.6,198.0 L717.6,192.2 L718.6,186.4 L719.6,181.6 L720.5,178.7 L719.5,178.8 L718.4,178.7 L719.3,181.6 L720.3,186.4 L721.3,192.2 L722.2,198.0 L723.3,203.1 L724.4,206.7 L727.4,209.2 L730.4,206.8 L731.6,203.1 L732.6,198.0 L733.6,192.2 L734.6,186.4 L735.6,181.6 L736.5,178.7 L735.5,178.8 L734.4,178.6 L735.1,181.5 L736.0,186.3 L736.9,192.1 L737.8,198.0 L738.7,203.0 L739.8,206.7 L742.7,209.2 L745.6,206.7 L746.7,203.0 L747.6,198.0 L748.5,192.1 L749.5,186.3 L750.4,181.5 L751.2,178.6 L750.2,178.7 L748.8,178.3 L749.4,181.3 L749.9,186.2 L750.5,192.0 L751.1,197.8 L751.8,202.8 L752.4,206.3 L754.9,209.0 L757.4,206.3 L758.0,202.8 L758.6,197.8 L759.1,192.0 L759.7,186.2 L760.2,181.3 L760.8,178.2 L759.5,178.5 L758.1,178.2 L758.6,181.3 L759.1,186.2 L759.6,192.0 L760.1,197.8 L760.6,202.8 L761.1,206.2 L763.4,208.8 L765.7,206.2 L766.2,202.8 L766.7,197.8 L767.1,192.0 L767.6,186.1 L768.1,181.3 L768.5,178.1 L767.2,178.4 L765.8,178.1 L766.2,181.2 L766.6,186.1 L767.0,191.9 L767.4,197.8 L767.8,202.7 L768.3,206.2 L770.5,208.8 L772.7,206.2 L773.1,202.7 L773.5,197.8 L773.9,191.9 L774.3,186.1 L774.7,181.2 L775.1,178.1 L773.7,178.4 L772.2,178.0 L772.6,181.2 L772.9,186.1 L773.3,191.9 L773.6,197.7 L774.0,202.7 L774.3,206.1 L776.5,208.8 L778.6,206.1 L779.0,202.7 L779.3,197.7 L779.7,191.9 L780.0,186.1 L780.3,181.2 L780.7,178.0 L779.2,178.4 L777.7,178.0 L778.0,181.2 L778.3,186.1 L778.6,191.9 L778.9,197.7 L779.2,202.7 L779.5,206.1 L781.6,208.8 L783.7,206.1 L784.0,202.7 L784.3,197.7 L784.6,191.9 L784.8,186.1 L785.1,181.2 L785.4,178.0 L783.9,178.4 L782.4,178.0 L782.6,181.2 L782.9,186.1 L783.1,191.9 L783.4,197.7 L783.7,202.7 L783.9,206.1 L786.0,208.8 L788.0,206.0 L788.3,202.7 L788.6,197.7 L788.8,191.9 L789.1,186.1 L789.3,181.2 L789.5,178.0 L788.0,178.4 L786.4,177.9 L786.7,181.2 L786.9,186.1 L787.1,191.9 L787.4,197.7 L787.6,202.7 L787.9,206.0 L789.9,208.8 L791.9,206.0 L792.2,202.7 L792.4,197.7 L792.6,191.9 L792.9,186.1 L793.1,181.2 L793.4,177.9 L791.8,178.4 L790.3,177.9 L790.5,181.2 L790.7,186.1 L791.0,191.9 L791.2,197.7 L791.4,202.7 L791.7,206.0 L793.7,208.8 L795.7,206.0 L796.0,202.7 L796.2,197.7 L796.4,191.9 L796.7,186.1 L796.9,181.2 L797.1,177.9 L795.6,178.4 L794.1,177.9 L794.3,181.2 L794.5,186.1 L794.8,191.9 L795.0,197.7 L795.2,202.7 L795.5,206.0 L797.5,208.8 L799.5,206.0 L799.8,202.7 L800.0,197.7 L800.2,191.9 L800.5,186.1 L800.7,181.2 L800.9,177.9 L799.4,178.4 L797.9,177.9 L798.1,181.2 L798.3,186.1 L798.6,191.9 L798.8,197.7 L799.0,202.7 L799.3,206.0 L801.3,208.8 L803.3,206.0 L803.6,202.7 L803.8,197.7 L804.0,191.9 L804.3,186.1 L804.5,181.2 L804.7,177.9 L803.2,178.4 L801.7,177.9 L801.9,181.2 L802.1,186.1 L802.4,191.9 L802.6,197.7 L802.9,202.7 L803.1,206.0 L805.1,208.8 L807.1,206.0 L807.3,202.7 L807.6,197.7 L807.8,191.9 L808.1,186.1 L808.3,181.2 L808.5,177.9 L807.0,178.4 L805.5,177.9 L805.7,181.2 L805.9,186.1 L806.2,191.9 L806.4,197.7 L806.7,202.6 L806.9,206.0 L808.9,208.8 L810.9,206.0 L811.1,202.6 L811.4,197.7 L811.6,191.9 L811.9,186.1 L812.1,181.2 L812.3,177.9 L810.8,178.4 L809.3,177.9 L809.5,181.2 L809.8,186.1 L810.0,191.9 L810.2,197.7 L810.5,202.6 L810.7,206.0 L812.7,208.8 L814.7,206.0 L814.9,202.6 L815.2,197.7 L815.4,191.9 L815.6,186.1 L815.9,181.2 L816.1,177.9 L814.6,178.4 L813.1,177.9 L813.3,181.2 L813.6,186.1 L813.8,191.9 L814.0,197.7 L814.3,202.6 L814.5,206.0 L816.5,208.8 L818.5,206.0 L818.7,202.6 L819.0,197.7 L819.2,191.9 L819.4,186.1 L819.7,181.2 L819.9,177.9 L818.4,178.4 L816.9,177.9 L817.1,181.2 L817.4,186.1 L817.6,191.9 L817.8,197.7 L818.1,202.6 L818.3,206.0 L820.3,208.8 L822.3,206.0 L822.5,202.6 L822.8,197.7 L823.0,191.9 L823.2,186.1 L823.5,181.2 L823.7,177.9 L820.2,177.6 L820.0,181.0 L819.7,185.9 L819.5,191.7 L819.3,197.5 L819.0,202.4 L818.8,205.7 L820.3,205.2 L821.8,205.7 L821.6,202.4 L821.3,197.5 L821.1,191.7 L820.9,185.9 L820.6,181.0 L820.4,177.6 L818.4,174.8 L816.4,177.6 L816.2,181.0 L815.9,185.9 L815.7,191.7 L815.5,197.5 L815.2,202.4 L815.0,205.7 L816.5,205.2 L818.0,205.7 L817.8,202.4 L817.5,197.5 L817.3,191.7 L817.1,185.9 L816.8,181.0 L816.6,177.6 L814.6,174.8 L812.6,177.6 L812.4,181.0 L812.1,185.9 L811.9,191.7 L811.7,197.5 L811.4,202.4 L811.2,205.7 L812.7,205.2 L814.2,205.7 L814.0,202.4 L813.7,197.5 L813.5,191.7 L813.3,185.9 L813.0,181.0 L812.8,177.6 L810.8,174.8 L808.8,177.6 L808.6,181.0 L808.3,185.9 L808.1,191.7 L807.8,197.5 L807.6,202.4 L807.4,205.7 L808.9,205.2 L810.4,205.7 L810.2,202.4 L810.0,197.5 L809.7,191.7 L809.5,185.9 L809.2,180.9 L809.0,177.6 L807.0,174.8 L805.0,177.6 L804.8,180.9 L804.5,185.9 L804.3,191.7 L804.0,197.5 L803.8,202.4 L803.6,205.7 L805.1,205.2 L806.6,205.7 L806.4,202.4 L806.2,197.5 L805.9,191.7 L805.7,185.9 L805.4,180.9 L805.2,177.6 L803.2,174.8 L801.2,177.6 L800.9,180.9 L800.7,185.9 L800.5,191.7 L800.2,197.5 L800.0,202.4 L799.8,205.7 L801.3,205.2 L802.8,205.7 L802.6,202.4 L802.4,197.5 L802.1,191.7 L801.9,185.9 L801.7,180.9 L801.4,177.6 L799.4,174.8 L797.4,177.6 L797.1,180.9 L796.9,185.9 L796.7,191.7 L796.4,197.5 L796.2,202.4 L796.0,205.7 L797.5,205.2 L799.0,205.7 L798.8,202.4 L798.6,197.5 L798.3,191.7 L798.1,185.9 L797.9,180.9 L797.6,177.6 L795.6,174.8 L793.6,177.6 L793.3,180.9 L793.1,185.9 L792.9,191.7 L792.6,197.5 L792.4,202.4 L792.2,205.7 L793.7,205.2 L795.2,205.7 L795.0,202.4 L794.8,197.5 L794.5,191.7 L794.3,185.9 L794.1,180.9 L793.8,177.6 L791.8,174.8 L789.8,177.6 L789.5,180.9 L789.3,185.9 L789.1,191.7 L788.8,197.5 L788.6,202.4 L788.3,205.7 L789.9,205.2 L791.5,205.7 L791.2,202.4 L791.0,197.5 L790.8,191.7 L790.5,185.9 L790.3,180.9 L790.0,177.6 L788.0,174.8 L786.0,177.6 L785.7,180.9 L785.4,185.9 L785.2,191.7 L784.9,197.5 L784.7,202.4 L784.5,205.6 L786.0,205.2 L787.5,205.6 L787.3,202.4 L787.0,197.5 L786.8,191.7 L786.5,185.9 L786.2,180.9 L786.0,177.5 L783.9,174.8 L781.8,177.5 L781.5,180.9 L781.2,185.9 L780.9,191.7 L780.7,197.5 L780.4,202.4 L780.1,205.6 L781.6,205.2 L783.1,205.6 L782.8,202.4 L782.5,197.5 L782.2,191.7 L781.9,185.9 L781.6,180.9 L781.3,177.5 L779.2,174.8 L777.1,177.5 L776.7,180.9 L776.4,185.9 L776.0,191.7 L775.7,197.5 L775.4,202.4 L775.0,205.6 L776.5,205.2 L778.0,205.6 L777.6,202.4 L777.3,197.5 L776.9,191.7 L776.6,185.9 L776.2,180.9 L775.9,177.5 L773.7,174.8 L771.5,177.4 L771.1,180.9 L770.7,185.8 L770.3,191.7 L769.9,197.5 L769.5,202.4 L769.1,205.5 L770.5,205.2 L771.9,205.5 L771.5,202.4 L771.1,197.5 L770.7,191.7 L770.3,185.8 L769.9,180.9 L769.4,177.4 L767.2,174.8 L764.9,177.4 L764.4,180.8 L763.9,185.8 L763.5,191.6 L763.0,197.5 L762.5,202.3 L762.1,205.5 L763.4,205.2 L764.7,205.4 L764.3,202.3 L763.8,197.4 L763.3,191.6 L762.8,185.8 L762.3,180.8 L761.8,177.4 L759.5,174.7 L757.1,177.3 L756.5,180.8 L755.9,185.8 L755.3,191.6 L754.7,197.4 L754.1,202.3 L753.6,205.4 L754.9,205.0 L756.2,205.3 L755.7,202.3 L755.1,197.4 L754.6,191.6 L754.0,185.8 L753.4,180.8 L752.8,177.2 L750.2,174.5 L747.4,177.0 L746.3,180.6 L745.3,185.6 L744.4,191.5 L743.4,197.2 L742.5,202.1 L741.6,205.0 L742.7,204.8 L743.8,205.0 L743.1,202.1 L742.2,197.3 L741.3,191.5 L740.4,185.6 L739.5,180.6 L738.4,176.9 L735.5,174.4 L732.5,176.8 L731.3,180.5 L730.3,185.6 L729.3,191.4 L728.3,197.2 L727.3,202.0 L726.4,204.9 L727.4,204.8 L728.4,204.9 L727.6,202.0 L726.6,197.2 L725.6,191.4 L724.7,185.6 L723.6,180.5 L722.5,176.9 L719.5,174.4 L716.4,176.8 L715.3,180.5 L714.2,185.6 L713.2,191.4 L712.2,197.2 L711.2,202.0 L710.3,204.9 L711.3,204.8 L712.2,204.8 L711.3,202.0 L710.2,197.2 L709.1,191.4 L708.0,185.5 L706.9,180.5 L705.6,176.8 L702.5,174.3 L699.4,176.8 L698.1,180.5 L697.0,185.5 L695.9,191.4 L694.8,197.2 L693.8,202.0 L692.8,204.8 L693.8,204.7 L694.7,204.8 L693.8,202.0 L692.7,197.2 L691.6,191.4 L690.5,185.5 L689.4,180.5 L688.1,176.7 L685.0,174.3 L681.8,176.7 L680.5,180.4 L679.4,185.5 L678.2,191.4 L677.1,197.1 L676.0,201.9 L675.1,204.8 L676.0,204.7 L677.0,204.8 L676.1,202.0 L675.0,197.2 L674.0,191.4 L672.9,185.5 L671.8,180.5 L670.6,176.7 L667.4,174.3 L664.1,176.6 L662.6,180.4 L661.3,185.4 L660.0,191.3 L658.8,197.1 L657.6,201.9 L656.5,204.7 L656.7,204.7 L657.3,204.6 L656.6,203.8 L655.5,202.0 L654.3,199.5 L653.1,196.3 L651.8,192.8 L650.5,189.2 L649.2,185.6 L647.9,182.2 L646.5,179.3 L645.0,176.9 L643.1,175.1 L640.4,174.2 L637.7,175.2 L635.9,177.3 L634.5,179.9 L633.1,183.2 L631.8,186.8 L630.5,190.7 L629.2,194.5 L627.9,198.0 L626.7,200.9 L625.6,203.0 L624.8,203.9 L624.8,203.9 L624.9,203.9 L624.3,203.4 L623.4,202.1 L622.3,200.3 L621.2,197.9 L620.0,195.1 L618.8,192.1 L617.6,189.0 L616.4,186.0 L615.2,183.0 L613.9,180.4 L612.6,178.1 L611.1,176.2 L609.3,174.8 L606.9,174.2 L604.5,175.0 L602.6,176.7 L601.2,178.9 L599.8,181.6 L598.5,184.6 L597.2,187.9 L596.0,191.3 L594.8,194.5 L593.6,197.3 L592.4,199.6 L591.4,201.2 L590.7,201.9 L590.6,202.0 L590.4,201.9 L589.7,201.5 L588.8,200.5 L587.7,199.0 L586.5,197.0 L585.3,194.7 L584.1,192.2 L582.9,189.5 L581.6,186.7 L580.4,184.1 L579.1,181.6 L577.8,179.4 L576.4,177.5 L574.9,175.9 L573.1,174.8 L571.0,174.3 L569.0,174.7 L567.2,175.7 L565.7,177.1 L564.3,178.9 L563.0,180.9 L561.7,183.3 L560.5,185.8 L559.2,188.4 L558.0,191.2 L556.8,193.8 L555.6,196.4 L554.4,198.8 L553.3,200.9 L552.1,202.7 L551.1,204.1 L550.1,204.9 L549.5,205.4 L548.8,205.5 L547.9,205.4 L546.9,205.3 L545.8,205.1 L544.7,204.9 L543.6,204.6 L542.5,204.2 L541.4,203.7 L540.3,203.2 L539.1,202.6 L538.0,201.9 L536.8,201.2 L535.7,200.4 L534.5,199.6 L533.3,198.7 L532.1,197.8 L530.9,196.9 L529.7,195.9 L528.5,195.0 L527.3,194.0 L526.1,193.0 L524.9,192.0 L523.7,191.0 L522.4,190.0 L521.2,189.1 L520.0,188.2 L518.7,187.3 L517.4,186.5 L516.2,185.7 L514.9,185.0 L513.6,184.3 L512.3,183.7 L511.0,183.1 L509.7,182.6 L508.4,182.3 L507.0,181.9 L505.7,181.7 L504.3,181.6 L503.0,181.5 L501.7,181.6 L500.3,181.7 L499.0,181.9 L497.7,182.2 L496.4,182.6 L495.1,183.1 L493.8,183.6 L492.5,184.2 L491.2,184.8 L489.9,185.5 L488.7,186.3 L487.4,187.1 L486.2,187.9 L484.9,188.8 L483.7,189.7 L482.5,190.6 L481.3,191.6 L480.0,192.6 L478.8,193.5 L477.6,194.5 L476.4,195.5 L475.2,196.4 L474.0,197.3 L472.9,198.2 L471.7,199.1 L470.5,199.9 L469.3,200.7 L468.2,201.5 L467.0,202.2 L465.9,202.8 L464.8,203.4 L463.6,203.9 L462.5,204.3 L461.4,204.7 L460.3,205.0 L459.2,205.3 L458.2,205.4 L457.1,205.5 L456.0,205.6 L454.9,205.5 L453.7,205.5 L452.6,205.4 L451.5,205.2 L450.3,205.0 L449.2,204.7 L448.1,204.4 L446.9,204.1 L445.8,203.7 L444.6,203.3 L443.5,202.8 L442.3,202.3 L441.1,201.7 L440.0,201.2 L438.8,200.5 L437.6,199.9 L436.4,199.2 L435.2,198.5 L434.1,197.8 L432.9,197.0 L431.7,196.2 L430.5,195.4 L429.3,194.6 L428.1,193.8 L426.9,193.0 L425.6,192.1 L424.4,191.3 L423.2,190.5 L422.0,189.6 L420.8,188.8 L419.5,188.0 L418.3,187.2 L417.1,186.4 L415.9,185.7 L414.6,184.9 L413.4,184.2 L412.1,183.5 L410.9,182.9 L409.6,182.2 L408.4,181.6 L407.1,181.1 L405.8,180.6 L404.6,180.1 L403.3,179.7 L402.0,179.3 L400.7,179.0 L399.5,178.7 L398.2,178.4 L396.9,178.2 L395.6,178.1 L394.3,178.0 L393.0,178.0 L391.7,178.0 L390.4,178.1 L389.1,178.2 L387.8,178.4 L386.6,178.7 L385.3,178.9 L384.0,179.3 L382.7,179.7 L381.5,180.1 L380.2,180.6 L378.9,181.1 L377.7,181.6 L376.4,182.2 L375.2,182.8 L373.9,183.5 L372.7,184.2 L371.5,184.9 L370.2,185.6 L369.0,186.4 L367.8,187.2 L366.6,188.0 L365.3,188.8 L364.1,189.6 L362.9,190.4 L361.7,191.3 L360.5,192.1 L359.3,192.9 L358.1,193.8 L356.9,194.6 L355.7,195.4 L354.5,196.2 L353.3,197.0 L352.1,197.8 L350.9,198.6 L349.7,199.3 L348.5,200.0 L347.4,200.7 L346.2,201.3 L345.0,201.9 L343.8,202.5 L342.7,203.1 L341.5,203.6 L340.4,204.0 L339.2,204.5 L338.1,204.9 L336.9,205.2 L335.8,205.5 L334.6,205.8 L333.5,206.0 L332.4,206.1 L331.3,206.2 L330.1,206.3 L329.0,206.3 L327.9,206.3 L326.7,206.3 L325.5,206.2 L324.4,206.1 L323.2,205.9 L322.1,205.7 L320.9,205.5 L319.8,205.2 L318.6,204.9 L317.5,204.6 L316.3,204.3 L315.1,203.9 L313.9,203.5 L312.8,203.0 L311.6,202.5 L310.4,202.0 L309.2,201.5 L308.1,201.0 L306.9,200.4 L305.7,199.8 L304.5,199.2 L303.3,198.6 L302.1,197.9 L300.9,197.2 L299.7,196.6 L298.5,195.9 L297.3,195.2 L296.1,194.4 L294.9,193.7 L293.7,193.0 L292.5,192.3 L291.3,191.6 L290.1,190.8 L288.9,190.1 L287.7,189.4 L286.4,188.7 L285.2,188.0 L284.0,187.3 L282.8,186.6 L281.5,185.9 L280.3,185.3 L279.1,184.6 L277.8,184.0 L276.6,183.4 L275.4,182.8 L274.1,182.3 L272.9,181.7 L271.6,181.2 L270.4,180.8 L269.1,180.3 L267.9,179.9 L266.6,179.5 L265.4,179.2 L264.1,178.9 L262.9,178.6 L261.6,178.3 L260.3,178.1 L259.1,178.0 L257.8,177.8 L256.5,177.7 L255.3,177.7 L254.0,177.7 L252.7,177.7 L251.5,177.7 L250.2,177.8 L249.0,177.9 L247.7,178.0 L246.5,178.2 L245.2,178.3 L244.0,178.5 L242.7,178.8 L241.5,179.0 L240.3,179.3 L239.0,179.6 L237.8,180.0 L236.5,180.3 L235.3,180.7 L234.1,181.1 L232.8,181.5 L231.6,182.0 L230.3,182.4 L229.1,182.9 L227.9,183.4 L226.7,183.9 L225.4,184.5 L224.2,185.0 L223.0,185.6 L221.8,186.1 L220.5,186.7 L219.3,187.3 L218.1,187.9 L216.9,188.5 L215.7,189.1 L214.4,189.7 L213.2,190.3 L212.0,191.0 L210.8,191.6 L209.6,192.2 L208.4,192.8 L207.2,193.5 L206.0,194.1 L204.8,194.7 L203.6,195.3 L202.4,195.9 L201.2,196.5 L200.0,197.1 L198.8,197.7 L197.6,198.2 L196.4,198.8 L195.2,199.3 L194.0,199.9 L192.8,200.4 L191.6,200.9 L190.4,201.4 L189.3,201.8 L188.1,202.3 L186.9,202.7 L185.7,203.1 L184.5,203.5 L183.4,203.8 L182.2,204.2 L181.0,204.5 L179.8,204.8 L178.7,205.1 L177.5,205.3 L176.3,205.5 L175.2,205.7 L174.0,205.9 L172.8,206.0 L171.7,206.1 L170.5,206.2 L169.3,206.3 L168.2,206.3 L167.0,206.4 L165.8,206.3 L164.7,206.3 L163.5,206.3 L162.3,206.2 L161.1,206.1 L160.0,206.0 L158.8,205.8 L157.6,205.7 L156.4,205.5 L155.3,205.3 L154.1,205.1 L152.9,204.9 L151.7,204.6 L150.6,204.3 L149.4,204.0 L148.2,203.7 L147.0,203.4 L145.8,203.1 L144.6,202.7 L143.5,202.3 L142.3,201.9 L141.1,201.5 L139.9,201.1 L138.7,200.7 L137.5,200.2 L136.3,199.8 L135.1,199.3 L133.9,198.8 L132.7,198.3 L131.5,197.8 L130.3,197.3 L129.2,196.8 L128.0,196.2 L126.8,195.7 L125.6,195.1 L124.4,194.6 L123.1,194.0 L121.9,193.5 L120.7,192.9 L119.5,192.3 L118.3,191.8 L117.1,191.2 L115.9,190.7 L114.7,190.1 L113.5,189.5 L112.3,189.0 L111.1,188.4 L109.9,187.9 L108.6,187.3 L107.4,186.8 L106.2,186.2 L105.0,185.7 L103.8,185.2 L102.5,184.7 L101.3,184.2 L100.1,183.7 L98.9,183.2 L97.7,182.8 L96.4,182.3 L95.2,181.9 L94.0,181.5 L92.7,181.1 L91.5,180.7 L90.3,180.3 L89.1,179.9 L87.8,179.6 L86.6,179.3 L85.4,179.0 L84.1,178.7 L82.9,178.4 L81.6,178.2 L80.4,177.9 L79.2,177.7 L77.9,177.6 L76.7,177.4 L75.5,177.2 L74.2,177.1 L73.0,177.0 L71.7,177.0 L70.5,176.9 L69.2,176.9 L68.0,176.9 L66.8,176.9 L65.5,176.9 L64.3,177.0 L63.0,177.0 L61.8,177.1 L60.5,177.3 L59.3,177.4 L58.0,177.6 L56.8,177.8 L55.6,178.0 L54.3,178.2 L53.1,178.5 L51.8,178.7 L50.6,179.0 L49.4,179.3 L48.1,179.7 L46.9,180.0 L45.7,180.4 L44.4,180.8 L43.2,181.2 L42.0,181.6 L40.7,182.0 L39.5,182.5 L38.3,182.9 L37.0,183.4 L35.8,183.9 L34.6,184.4 L33.4,184.9 L32.1,185.4 L30.9,185.9 L29.7,186.5 L28.5,187.0 L27.3,187.5 L26.1,188.1 L24.8,188.7 L23.6,189.2 L22.4,189.8 L21.2,190.4 L20.0,190.9 L18.8,191.5 L17.6,192.1 L16.4,192.6 L15.1,193.2Z" fill="url(#gW)" fill-rule="nonzero"/></g>
<text transform="translate(19.16,172.70) scale(0.6043,1)" font-size="20.8" fill="#1f4e9e" font-weight="normal" stroke="#1f4e9e" stroke-width="0.25" stroke-linejoin="round">Hz</text><text transform="translate(19.36,172.70) scale(0.6043,1)" font-size="20.8" fill="#1f4e9e" font-weight="normal" stroke="#1f4e9e" stroke-width="0.25" stroke-linejoin="round">Hz</text>
<text transform="translate(130.78,172.70) scale(0.6530,1)" font-size="20.8" fill="#1f4e9e" font-weight="normal" stroke="#1f4e9e" stroke-width="0.25" stroke-linejoin="round">kHz</text><text transform="translate(130.98,172.70) scale(0.6530,1)" font-size="20.8" fill="#1f4e9e" font-weight="normal" stroke="#1f4e9e" stroke-width="0.25" stroke-linejoin="round">kHz</text>
<text transform="translate(243.32,172.70) scale(0.6277,1)" font-size="20.8" fill="#ffffff" font-weight="normal" stroke="#ffffff" stroke-width="0.25" stroke-linejoin="round">MHz</text><text transform="translate(243.52,172.70) scale(0.6277,1)" font-size="20.8" fill="#ffffff" font-weight="normal" stroke="#ffffff" stroke-width="0.25" stroke-linejoin="round">MHz</text>
<text transform="translate(356.21,172.70) scale(0.5693,1)" font-size="20.8" fill="#ffffff" font-weight="normal" stroke="#ffffff" stroke-width="0.25" stroke-linejoin="round">GHz</text><text transform="translate(356.41,172.70) scale(0.5693,1)" font-size="20.8" fill="#ffffff" font-weight="normal" stroke="#ffffff" stroke-width="0.25" stroke-linejoin="round">GHz</text>
<text transform="translate(693.88,172.70) scale(0.5936,1)" font-size="20.8" fill="#ffffff" font-weight="normal" stroke="#ffffff" stroke-width="0.25" stroke-linejoin="round">EHz</text><text transform="translate(694.08,172.70) scale(0.5936,1)" font-size="20.8" fill="#ffffff" font-weight="normal" stroke="#ffffff" stroke-width="0.25" stroke-linejoin="round">EHz</text>
<text transform="translate(18.92,221.40) scale(0.6163,1)" font-size="11.6" fill="#1f4e9e" font-weight="bold">DIRECT</text><text transform="translate(19.16,221.40) scale(0.6163,1)" font-size="11.6" fill="#1f4e9e" font-weight="bold">DIRECT</text>
<text transform="translate(19.12,233.00) scale(0.6087,1)" font-size="11.6" fill="#1f4e9e" font-weight="bold">CURRENT</text><text transform="translate(19.36,233.00) scale(0.6087,1)" font-size="11.6" fill="#1f4e9e" font-weight="bold">CURRENT</text>
<text transform="translate(62.42,221.40) scale(0.6182,1)" font-size="11.6" fill="#1f4e9e" font-weight="bold">EXTREMELY LOW</text><text transform="translate(62.66,221.40) scale(0.6182,1)" font-size="11.6" fill="#1f4e9e" font-weight="bold">EXTREMELY LOW</text>
<text transform="translate(71.63,233.00) scale(0.5978,1)" font-size="11.6" fill="#1f4e9e" font-weight="bold">FREQUENCY</text><text transform="translate(71.87,233.00) scale(0.5978,1)" font-size="11.6" fill="#1f4e9e" font-weight="bold">FREQUENCY</text>
<text transform="translate(149.50,221.40) scale(0.6348,1)" font-size="11.6" fill="#1f4e9e" font-weight="bold">LOW</text><text transform="translate(149.74,221.40) scale(0.6348,1)" font-size="11.6" fill="#1f4e9e" font-weight="bold">LOW</text>
<text transform="translate(136.74,233.00) scale(0.5881,1)" font-size="11.6" fill="#1f4e9e" font-weight="bold">FREQUENCY</text><text transform="translate(136.98,233.00) scale(0.5881,1)" font-size="11.6" fill="#1f4e9e" font-weight="bold">FREQUENCY</text>
<text transform="translate(306.90,221.40) scale(0.6332,1)" font-size="11.6" fill="#ffffff" font-weight="bold">RADIO</text><text transform="translate(307.14,221.40) scale(0.6332,1)" font-size="11.6" fill="#ffffff" font-weight="bold">RADIO</text>
<text transform="translate(305.58,233.00) scale(0.6527,1)" font-size="11.6" fill="#ffffff" font-weight="bold">WAVES</text><text transform="translate(305.82,233.00) scale(0.6527,1)" font-size="11.6" fill="#ffffff" font-weight="bold">WAVES</text>
<text transform="translate(405.70,226.80) scale(0.6405,1)" font-size="11.6" fill="#ffffff" font-weight="bold">MICROWAVES</text><text transform="translate(405.94,226.80) scale(0.6405,1)" font-size="11.6" fill="#ffffff" font-weight="bold">MICROWAVES</text>
<text transform="translate(487.30,221.40) scale(0.6385,1)" font-size="11.6" fill="#ffffff" font-weight="bold">INFRARED</text><text transform="translate(487.54,221.40) scale(0.6385,1)" font-size="11.6" fill="#ffffff" font-weight="bold">INFRARED</text>
<text transform="translate(486.19,233.00) scale(0.6571,1)" font-size="11.6" fill="#ffffff" font-weight="bold">RADIATION</text><text transform="translate(486.43,233.00) scale(0.6571,1)" font-size="11.6" fill="#ffffff" font-weight="bold">RADIATION</text>
<text transform="translate(584.47,226.80) scale(0.6174,1)" font-size="11.6" fill="#ffffff" font-weight="bold">ULTRAVIOLET</text><text transform="translate(584.71,226.80) scale(0.6174,1)" font-size="11.6" fill="#ffffff" font-weight="bold">ULTRAVIOLET</text>
<text transform="translate(680.93,226.80) scale(0.6342,1)" font-size="11.6" fill="#ffffff" font-weight="bold">X-RAYS</text><text transform="translate(681.17,226.80) scale(0.6342,1)" font-size="11.6" fill="#ffffff" font-weight="bold">X-RAYS</text>
<text transform="translate(755.40,221.40) scale(0.6378,1)" font-size="11.6" fill="#ffffff" font-weight="bold">GAMMA</text><text transform="translate(755.64,221.40) scale(0.6378,1)" font-size="11.6" fill="#ffffff" font-weight="bold">GAMMA</text>
<text transform="translate(759.81,233.00) scale(0.6302,1)" font-size="11.6" fill="#ffffff" font-weight="bold">RAYS</text><text transform="translate(760.05,233.00) scale(0.6302,1)" font-size="11.6" fill="#ffffff" font-weight="bold">RAYS</text>
<rect x="25" y="249.1" width="256" height="1.8" fill="#86c6dc"/>
<rect x="388" y="249.1" width="224.5" height="1.8" fill="#86c6dc"/>
<polygon points="19.3,250 27.2,246.8 25.6,250 27.2,253.3" fill="#3598b8" stroke="#3598b8" stroke-width="0.5" stroke-linejoin="round"/>
<rect x="612.2" y="246.6" width="1.3" height="6.9" fill="#3598b8"/>
<rect x="613.9" y="246.6" width="1.3" height="6.9" fill="#e85a22"/>
<rect x="615" y="249.1" width="54.3" height="1.7" fill="#f4a07a"/>
<rect x="754.6" y="249.1" width="59" height="1.7" fill="#f4a07a"/>
<polygon points="819.6,250 811.8,246.8 813.4,250 811.8,253.3" fill="#f06526" stroke="#f06526" stroke-width="0.5" stroke-linejoin="round"/>
<text transform="translate(282.72,253.90) scale(0.6880,1)" font-size="11.9" fill="#2f9cbf" font-weight="normal" stroke="#2f9cbf" stroke-width="0.6" stroke-linejoin="round">NON-IONIZING RADIATION</text>
<text transform="translate(670.24,253.90) scale(0.6863,1)" font-size="11.9" fill="#f06526" font-weight="normal" stroke="#f06526" stroke-width="0.6" stroke-linejoin="round">IONIZING RADIATION</text>
<linearGradient id="t0" gradientUnits="userSpaceOnUse" x1="574.6" y1="239.6" x2="500.5" y2="308.4"><stop offset="0.12" stop-color="#d93424"/><stop offset="0.95" stop-color="#ee5810"/></linearGradient>
<polygon points="574.6,239.6 499.30,308.7 650.7,308.7" fill="url(#t0)"/>
<linearGradient id="t1" gradientUnits="userSpaceOnUse" x1="574.6" y1="239.6" x2="502.9" y2="308.4"><stop offset="0.12" stop-color="#da3524"/><stop offset="0.95" stop-color="#ee5910"/></linearGradient>
<polygon points="574.6,239.6 501.72,308.7 650.7,308.7" fill="url(#t1)"/>
<linearGradient id="t2" gradientUnits="userSpaceOnUse" x1="574.6" y1="239.6" x2="505.3" y2="308.4"><stop offset="0.12" stop-color="#da3523"/><stop offset="0.95" stop-color="#ef5a10"/></linearGradient>
<polygon points="574.6,239.6 504.13,308.7 650.7,308.7" fill="url(#t2)"/>
<linearGradient id="t3" gradientUnits="userSpaceOnUse" x1="574.6" y1="239.6" x2="507.8" y2="308.4"><stop offset="0.12" stop-color="#da3623"/><stop offset="0.95" stop-color="#ef5b10"/></linearGradient>
<polygon points="574.6,239.6 506.55,308.7 650.7,308.7" fill="url(#t3)"/>
<linearGradient id="t4" gradientUnits="userSpaceOnUse" x1="574.6" y1="239.6" x2="510.2" y2="308.4"><stop offset="0.12" stop-color="#da3623"/><stop offset="0.95" stop-color="#f05c10"/></linearGradient>
<polygon points="574.6,239.6 508.97,308.7 650.7,308.7" fill="url(#t4)"/>
<linearGradient id="t5" gradientUnits="userSpaceOnUse" x1="574.6" y1="239.6" x2="512.6" y2="308.4"><stop offset="0.12" stop-color="#db3722"/><stop offset="0.95" stop-color="#f05d10"/></linearGradient>
<polygon points="574.6,239.6 511.38,308.7 650.7,308.7" fill="url(#t5)"/>
<linearGradient id="t6" gradientUnits="userSpaceOnUse" x1="574.6" y1="239.6" x2="515.0" y2="308.4"><stop offset="0.12" stop-color="#db3722"/><stop offset="0.95" stop-color="#f05d10"/></linearGradient>
<polygon points="574.6,239.6 513.80,308.7 650.7,308.7" fill="url(#t6)"/>
<linearGradient id="t7" gradientUnits="userSpaceOnUse" x1="574.6" y1="239.6" x2="517.4" y2="308.4"><stop offset="0.12" stop-color="#dc3822"/><stop offset="0.95" stop-color="#f05e10"/></linearGradient>
<polygon points="574.6,239.6 516.22,308.7 650.7,308.7" fill="url(#t7)"/>
<linearGradient id="t8" gradientUnits="userSpaceOnUse" x1="574.6" y1="239.6" x2="519.8" y2="308.4"><stop offset="0.12" stop-color="#dc3821"/><stop offset="0.95" stop-color="#f15f10"/></linearGradient>
<polygon points="574.6,239.6 518.63,308.7 650.7,308.7" fill="url(#t8)"/>
<linearGradient id="t9" gradientUnits="userSpaceOnUse" x1="574.6" y1="239.6" x2="522.3" y2="308.4"><stop offset="0.12" stop-color="#dc3921"/><stop offset="0.95" stop-color="#f16010"/></linearGradient>
<polygon points="574.6,239.6 521.05,308.7 650.7,308.7" fill="url(#t9)"/>
<linearGradient id="t10" gradientUnits="userSpaceOnUse" x1="574.6" y1="239.6" x2="524.7" y2="308.4"><stop offset="0.12" stop-color="#dc3920"/><stop offset="0.95" stop-color="#f26110"/></linearGradient>
<polygon points="574.6,239.6 523.47,308.7 650.7,308.7" fill="url(#t10)"/>
<linearGradient id="t11" gradientUnits="userSpaceOnUse" x1="574.6" y1="239.6" x2="527.1" y2="308.4"><stop offset="0.12" stop-color="#dd3a20"/><stop offset="0.95" stop-color="#f26210"/></linearGradient>
<polygon points="574.6,239.6 525.88,308.7 650.7,308.7" fill="url(#t11)"/>
<linearGradient id="t12" gradientUnits="userSpaceOnUse" x1="574.6" y1="239.6" x2="529.5" y2="308.4"><stop offset="0.12" stop-color="#f66108"/><stop offset="0.95" stop-color="#ff8000"/></linearGradient>
<polygon points="574.6,239.6 528.30,308.7 650.7,308.7" fill="url(#t12)"/>
<linearGradient id="t13" gradientUnits="userSpaceOnUse" x1="574.6" y1="239.6" x2="531.9" y2="308.4"><stop offset="0.12" stop-color="#f76407"/><stop offset="0.95" stop-color="#ff8500"/></linearGradient>
<polygon points="574.6,239.6 530.69,308.7 650.7,308.7" fill="url(#t13)"/>
<linearGradient id="t14" gradientUnits="userSpaceOnUse" x1="574.6" y1="239.6" x2="534.3" y2="308.4"><stop offset="0.12" stop-color="#f76607"/><stop offset="0.95" stop-color="#ff8a00"/></linearGradient>
<polygon points="574.6,239.6 533.08,308.7 650.7,308.7" fill="url(#t14)"/>
<linearGradient id="t15" gradientUnits="userSpaceOnUse" x1="574.6" y1="239.6" x2="536.7" y2="308.4"><stop offset="0.12" stop-color="#f86807"/><stop offset="0.95" stop-color="#ff8f00"/></linearGradient>
<polygon points="574.6,239.6 535.47,308.7 650.7,308.7" fill="url(#t15)"/>
<linearGradient id="t16" gradientUnits="userSpaceOnUse" x1="574.6" y1="239.6" x2="539.1" y2="308.4"><stop offset="0.12" stop-color="#f86b06"/><stop offset="0.95" stop-color="#ff9400"/></linearGradient>
<polygon points="574.6,239.6 537.86,308.7 650.7,308.7" fill="url(#t16)"/>
<linearGradient id="t17" gradientUnits="userSpaceOnUse" x1="574.6" y1="239.6" x2="541.4" y2="308.4"><stop offset="0.12" stop-color="#f96d06"/><stop offset="0.95" stop-color="#ff9900"/></linearGradient>
<polygon points="574.6,239.6 540.25,308.7 650.7,308.7" fill="url(#t17)"/>
<linearGradient id="t18" gradientUnits="userSpaceOnUse" x1="574.6" y1="239.6" x2="543.8" y2="308.4"><stop offset="0.12" stop-color="#f97005"/><stop offset="0.95" stop-color="#ff9e00"/></linearGradient>
<polygon points="574.6,239.6 542.64,308.7 650.7,308.7" fill="url(#t18)"/>
<linearGradient id="t19" gradientUnits="userSpaceOnUse" x1="574.6" y1="239.6" x2="546.2" y2="308.4"><stop offset="0.12" stop-color="#fa7205"/><stop offset="0.95" stop-color="#ffa200"/></linearGradient>
<polygon points="574.6,239.6 545.03,308.7 650.7,308.7" fill="url(#t19)"/>
<linearGradient id="t20" gradientUnits="userSpaceOnUse" x1="574.6" y1="239.6" x2="548.6" y2="308.4"><stop offset="0.12" stop-color="#fa7405"/><stop offset="0.95" stop-color="#ffa700"/></linearGradient>
<polygon points="574.6,239.6 547.42,308.7 650.7,308.7" fill="url(#t20)"/>
<linearGradient id="t21" gradientUnits="userSpaceOnUse" x1="574.6" y1="239.6" x2="551.0" y2="308.4"><stop offset="0.12" stop-color="#fb7704"/><stop offset="0.95" stop-color="#ffac00"/></linearGradient>
<polygon points="574.6,239.6 549.81,308.7 650.7,308.7" fill="url(#t21)"/>
<linearGradient id="t22" gradientUnits="userSpaceOnUse" x1="574.6" y1="239.6" x2="553.4" y2="308.4"><stop offset="0.12" stop-color="#ffbb03"/><stop offset="0.95" stop-color="#ffea20"/></linearGradient>
<polygon points="574.6,239.6 552.20,308.7 650.7,308.7" fill="url(#t22)"/>
<linearGradient id="t23" gradientUnits="userSpaceOnUse" x1="574.6" y1="239.6" x2="555.9" y2="308.4"><stop offset="0.12" stop-color="#ffc908"/><stop offset="0.95" stop-color="#fff529"/></linearGradient>
<polygon points="574.6,239.6 554.67,308.7 650.7,308.7" fill="url(#t23)"/>
<linearGradient id="t24" gradientUnits="userSpaceOnUse" x1="574.6" y1="239.6" x2="558.4" y2="308.4"><stop offset="0.12" stop-color="#ffd70d"/><stop offset="0.95" stop-color="#feff30"/></linearGradient>
<polygon points="574.6,239.6 557.13,308.7 650.7,308.7" fill="url(#t24)"/>
<linearGradient id="t25" gradientUnits="userSpaceOnUse" x1="574.6" y1="239.6" x2="560.8" y2="308.4"><stop offset="0.12" stop-color="#fde212"/><stop offset="0.95" stop-color="#faff31"/></linearGradient>
<polygon points="574.6,239.6 559.60,308.7 650.7,308.7" fill="url(#t25)"/>
<linearGradient id="t26" gradientUnits="userSpaceOnUse" x1="574.6" y1="239.6" x2="563.3" y2="308.4"><stop offset="0.12" stop-color="#f6e717"/><stop offset="0.95" stop-color="#f5ff31"/></linearGradient>
<polygon points="574.6,239.6 562.07,308.7 650.7,308.7" fill="url(#t26)"/>
<linearGradient id="t27" gradientUnits="userSpaceOnUse" x1="574.6" y1="239.6" x2="565.8" y2="308.4"><stop offset="0.12" stop-color="#eeec1c"/><stop offset="0.95" stop-color="#f0ff32"/></linearGradient>
<polygon points="574.6,239.6 564.53,308.7 650.7,308.7" fill="url(#t27)"/>
<linearGradient id="t28" gradientUnits="userSpaceOnUse" x1="574.6" y1="239.6" x2="568.2" y2="308.4"><stop offset="0.12" stop-color="#e3ee21"/><stop offset="0.95" stop-color="#d5f52c"/></linearGradient>
<polygon points="574.6,239.6 567.00,308.7 650.7,308.7" fill="url(#t28)"/>
<linearGradient id="t29" gradientUnits="userSpaceOnUse" x1="574.6" y1="239.6" x2="570.7" y2="308.4"><stop offset="0.12" stop-color="#b4dc27"/><stop offset="0.95" stop-color="#b8e925"/></linearGradient>
<polygon points="574.6,239.6 569.47,308.7 650.7,308.7" fill="url(#t29)"/>
<linearGradient id="t30" gradientUnits="userSpaceOnUse" x1="574.6" y1="239.6" x2="573.2" y2="308.4"><stop offset="0.12" stop-color="#84c92d"/><stop offset="0.95" stop-color="#76d627"/></linearGradient>
<polygon points="574.6,239.6 571.93,308.7 650.7,308.7" fill="url(#t30)"/>
<linearGradient id="t31" gradientUnits="userSpaceOnUse" x1="574.6" y1="239.6" x2="575.6" y2="308.4"><stop offset="0.12" stop-color="#5bb934"/><stop offset="0.95" stop-color="#3fcb26"/></linearGradient>
<polygon points="574.6,239.6 574.40,308.7 650.7,308.7" fill="url(#t31)"/>
<linearGradient id="t32" gradientUnits="userSpaceOnUse" x1="574.6" y1="239.6" x2="578.1" y2="308.4"><stop offset="0.12" stop-color="#3aab3b"/><stop offset="0.95" stop-color="#1ac923"/></linearGradient>
<polygon points="574.6,239.6 576.85,308.7 650.7,308.7" fill="url(#t32)"/>
<linearGradient id="t33" gradientUnits="userSpaceOnUse" x1="574.6" y1="239.6" x2="580.5" y2="308.4"><stop offset="0.12" stop-color="#1f9e42"/><stop offset="0.95" stop-color="#0bc623"/></linearGradient>
<polygon points="574.6,239.6 579.30,308.7 650.7,308.7" fill="url(#t33)"/>
<linearGradient id="t34" gradientUnits="userSpaceOnUse" x1="574.6" y1="239.6" x2="583.0" y2="308.4"><stop offset="0.12" stop-color="#19974c"/><stop offset="0.95" stop-color="#09c325"/></linearGradient>
<polygon points="574.6,239.6 581.75,308.7 650.7,308.7" fill="url(#t34)"/>
<linearGradient id="t35" gradientUnits="userSpaceOnUse" x1="574.6" y1="239.6" x2="585.4" y2="308.4"><stop offset="0.12" stop-color="#129056"/><stop offset="0.95" stop-color="#08bf26"/></linearGradient>
<polygon points="574.6,239.6 584.20,308.7 650.7,308.7" fill="url(#t35)"/>
<linearGradient id="t36" gradientUnits="userSpaceOnUse" x1="574.6" y1="239.6" x2="587.9" y2="308.4"><stop offset="0.12" stop-color="#0c8860"/><stop offset="0.95" stop-color="#06bc28"/></linearGradient>
<polygon points="574.6,239.6 586.65,308.7 650.7,308.7" fill="url(#t36)"/>
<linearGradient id="t37" gradientUnits="userSpaceOnUse" x1="574.6" y1="239.6" x2="590.3" y2="308.4"><stop offset="0.12" stop-color="#0e8269"/><stop offset="0.95" stop-color="#0ab131"/></linearGradient>
<polygon points="574.6,239.6 589.10,308.7 650.7,308.7" fill="url(#t37)"/>
<linearGradient id="t38" gradientUnits="userSpaceOnUse" x1="574.6" y1="239.6" x2="592.8" y2="308.4"><stop offset="0.12" stop-color="#0f7b73"/><stop offset="0.95" stop-color="#0ea63b"/></linearGradient>
<polygon points="574.6,239.6 591.55,308.7 650.7,308.7" fill="url(#t38)"/>
<linearGradient id="t39" gradientUnits="userSpaceOnUse" x1="574.6" y1="239.6" x2="595.3" y2="308.4"><stop offset="0.12" stop-color="#1e45c7"/><stop offset="0.95" stop-color="#125ce2"/></linearGradient>
<polygon points="574.6,239.6 594.00,308.7 650.7,308.7" fill="url(#t39)"/>
<linearGradient id="t40" gradientUnits="userSpaceOnUse" x1="574.6" y1="239.6" x2="597.8" y2="308.4"><stop offset="0.12" stop-color="#213fc5"/><stop offset="0.95" stop-color="#1651e1"/></linearGradient>
<polygon points="574.6,239.6 596.55,308.7 650.7,308.7" fill="url(#t40)"/>
<linearGradient id="t41" gradientUnits="userSpaceOnUse" x1="574.6" y1="239.6" x2="600.4" y2="308.4"><stop offset="0.12" stop-color="#2539c3"/><stop offset="0.95" stop-color="#1b47df"/></linearGradient>
<polygon points="574.6,239.6 599.10,308.7 650.7,308.7" fill="url(#t41)"/>
<linearGradient id="t42" gradientUnits="userSpaceOnUse" x1="574.6" y1="239.6" x2="602.9" y2="308.4"><stop offset="0.12" stop-color="#2833c1"/><stop offset="0.95" stop-color="#213fda"/></linearGradient>
<polygon points="574.6,239.6 601.65,308.7 650.7,308.7" fill="url(#t42)"/>
<linearGradient id="t43" gradientUnits="userSpaceOnUse" x1="574.6" y1="239.6" x2="605.5" y2="308.4"><stop offset="0.12" stop-color="#2e2dbe"/><stop offset="0.95" stop-color="#2638d5"/></linearGradient>
<polygon points="574.6,239.6 604.20,308.7 650.7,308.7" fill="url(#t43)"/>
<linearGradient id="t44" gradientUnits="userSpaceOnUse" x1="574.6" y1="239.6" x2="608.0" y2="308.4"><stop offset="0.12" stop-color="#3427ba"/><stop offset="0.95" stop-color="#2c30d0"/></linearGradient>
<polygon points="574.6,239.6 606.75,308.7 650.7,308.7" fill="url(#t44)"/>
<linearGradient id="t45" gradientUnits="userSpaceOnUse" x1="574.6" y1="239.6" x2="610.6" y2="308.4"><stop offset="0.12" stop-color="#3a21b6"/><stop offset="0.95" stop-color="#3425c7"/></linearGradient>
<polygon points="574.6,239.6 609.30,308.7 650.7,308.7" fill="url(#t45)"/>
<linearGradient id="t46" gradientUnits="userSpaceOnUse" x1="574.6" y1="239.6" x2="613.1" y2="308.4"><stop offset="0.12" stop-color="#411bb2"/><stop offset="0.95" stop-color="#3c1abe"/></linearGradient>
<polygon points="574.6,239.6 611.85,308.7 650.7,308.7" fill="url(#t46)"/>
<linearGradient id="t47" gradientUnits="userSpaceOnUse" x1="574.6" y1="239.6" x2="615.6" y2="308.4"><stop offset="0.12" stop-color="#4f13a6"/><stop offset="0.95" stop-color="#4112b8"/></linearGradient>
<polygon points="574.6,239.6 614.40,308.7 650.7,308.7" fill="url(#t47)"/>
<linearGradient id="t48" gradientUnits="userSpaceOnUse" x1="574.6" y1="239.6" x2="618.0" y2="308.4"><stop offset="0.12" stop-color="#5410a2"/><stop offset="0.95" stop-color="#440db4"/></linearGradient>
<polygon points="574.6,239.6 616.82,308.7 650.7,308.7" fill="url(#t48)"/>
<linearGradient id="t49" gradientUnits="userSpaceOnUse" x1="574.6" y1="239.6" x2="620.5" y2="308.4"><stop offset="0.12" stop-color="#590e9e"/><stop offset="0.95" stop-color="#4609b0"/></linearGradient>
<polygon points="574.6,239.6 619.24,308.7 650.7,308.7" fill="url(#t49)"/>
<linearGradient id="t50" gradientUnits="userSpaceOnUse" x1="574.6" y1="239.6" x2="622.9" y2="308.4"><stop offset="0.12" stop-color="#5e0b9a"/><stop offset="0.95" stop-color="#4904ac"/></linearGradient>
<polygon points="574.6,239.6 621.66,308.7 650.7,308.7" fill="url(#t50)"/>
<linearGradient id="t51" gradientUnits="userSpaceOnUse" x1="574.6" y1="239.6" x2="625.3" y2="308.4"><stop offset="0.12" stop-color="#600a98"/><stop offset="0.95" stop-color="#4a02aa"/></linearGradient>
<polygon points="574.6,239.6 624.08,308.7 650.7,308.7" fill="url(#t51)"/>
<linearGradient id="t52" gradientUnits="userSpaceOnUse" x1="574.6" y1="239.6" x2="627.7" y2="308.4"><stop offset="0.12" stop-color="#610a97"/><stop offset="0.95" stop-color="#4a02a9"/></linearGradient>
<polygon points="574.6,239.6 626.50,308.7 650.7,308.7" fill="url(#t52)"/>
<linearGradient id="t53" gradientUnits="userSpaceOnUse" x1="574.6" y1="239.6" x2="630.1" y2="308.4"><stop offset="0.12" stop-color="#620a96"/><stop offset="0.95" stop-color="#4a02a9"/></linearGradient>
<polygon points="574.6,239.6 628.92,308.7 650.7,308.7" fill="url(#t53)"/>
<linearGradient id="t54" gradientUnits="userSpaceOnUse" x1="574.6" y1="239.6" x2="632.5" y2="308.4"><stop offset="0.12" stop-color="#630995"/><stop offset="0.95" stop-color="#4b01a9"/></linearGradient>
<polygon points="574.6,239.6 631.34,308.7 650.7,308.7" fill="url(#t54)"/>
<linearGradient id="t55" gradientUnits="userSpaceOnUse" x1="574.6" y1="239.6" x2="635.0" y2="308.4"><stop offset="0.12" stop-color="#630994"/><stop offset="0.95" stop-color="#4b01a8"/></linearGradient>
<polygon points="574.6,239.6 633.76,308.7 650.7,308.7" fill="url(#t55)"/>
<linearGradient id="t56" gradientUnits="userSpaceOnUse" x1="574.6" y1="239.6" x2="637.4" y2="308.4"><stop offset="0.12" stop-color="#640993"/><stop offset="0.95" stop-color="#4b01a8"/></linearGradient>
<polygon points="574.6,239.6 636.18,308.7 650.7,308.7" fill="url(#t56)"/>
<linearGradient id="t57" gradientUnits="userSpaceOnUse" x1="574.6" y1="239.6" x2="639.8" y2="308.4"><stop offset="0.12" stop-color="#650992"/><stop offset="0.95" stop-color="#4b01a8"/></linearGradient>
<polygon points="574.6,239.6 638.60,308.7 650.7,308.7" fill="url(#t57)"/>
<linearGradient id="t58" gradientUnits="userSpaceOnUse" x1="574.6" y1="239.6" x2="642.2" y2="308.4"><stop offset="0.12" stop-color="#650991"/><stop offset="0.95" stop-color="#4b01a7"/></linearGradient>
<polygon points="574.6,239.6 641.02,308.7 650.7,308.7" fill="url(#t58)"/>
<linearGradient id="t59" gradientUnits="userSpaceOnUse" x1="574.6" y1="239.6" x2="644.7" y2="308.4"><stop offset="0.12" stop-color="#660890"/><stop offset="0.95" stop-color="#4c00a7"/></linearGradient>
<polygon points="574.6,239.6 643.44,308.7 650.7,308.7" fill="url(#t59)"/>
<linearGradient id="t60" gradientUnits="userSpaceOnUse" x1="574.6" y1="239.6" x2="647.1" y2="308.4"><stop offset="0.12" stop-color="#67088f"/><stop offset="0.95" stop-color="#4c00a7"/></linearGradient>
<polygon points="574.6,239.6 645.86,308.7 650.7,308.7" fill="url(#t60)"/>
<linearGradient id="t61" gradientUnits="userSpaceOnUse" x1="574.6" y1="239.6" x2="649.5" y2="308.4"><stop offset="0.12" stop-color="#68088e"/><stop offset="0.95" stop-color="#4c00a6"/></linearGradient>
<polygon points="574.6,239.6 648.28,308.7 650.7,308.7" fill="url(#t61)"/>
<rect x="499.3" y="308.4" width="151.4" height="22.8" fill="url(#gV)"/>
<text transform="translate(576.54,323.80) scale(0.6771,1)" font-size="11.8" fill="#ffffff" font-weight="bold">VISIBLE</text>
<text x="62.0" y="290.1" font-size="13.2" fill="#8593b3" stroke="#8593b3" stroke-width="0.35" textLength="62.4" lengthAdjust="spacingAndGlyphs">Computer</text>
<text x="62.0" y="305.2" font-size="13.2" fill="#8593b3" stroke="#8593b3" stroke-width="0.35" textLength="62.4" lengthAdjust="spacingAndGlyphs">60-100 Hz</text>
<text x="36.3" y="337.4" font-size="13.2" fill="#5a9aa8" stroke="#5a9aa8" stroke-width="0.35" textLength="73.9" lengthAdjust="spacingAndGlyphs">Power Lines</text>
<text x="45.1" y="352.3" font-size="13.2" fill="#5a9aa8" stroke="#5a9aa8" stroke-width="0.35" textLength="55.9" lengthAdjust="spacingAndGlyphs">50-60 Hz</text>
<text x="250.2" y="280.0" font-size="13.2" fill="#7b82d8" stroke="#7b82d8" stroke-width="0.35" textLength="81.8" lengthAdjust="spacingAndGlyphs">TV Broadcast</text>
<text x="254.6" y="295.4" font-size="13.2" fill="#7b82d8" stroke="#7b82d8" stroke-width="0.35" textLength="73.2" lengthAdjust="spacingAndGlyphs">54-700 MHz</text>
<text x="257.8" y="345.9" font-size="13.2" fill="#6a8ac4" stroke="#6a8ac4" stroke-width="0.35" textLength="34.4" lengthAdjust="spacingAndGlyphs">Radio</text>
<text x="222.2" y="361.2" font-size="13.2" fill="#6a8ac4" stroke="#6a8ac4" stroke-width="0.35" textLength="105.6" lengthAdjust="spacingAndGlyphs">AM 520-1610 kHz</text>
<text x="223.4" y="376.3" font-size="13.2" fill="#6a8ac4" stroke="#6a8ac4" stroke-width="0.35" textLength="102.5" lengthAdjust="spacingAndGlyphs">FM 87.5-108 MHz</text>
<text x="403.7" y="280.0" font-size="13.2" fill="#a62ba8" stroke="#a62ba8" stroke-width="0.35" textLength="66.3" lengthAdjust="spacingAndGlyphs">Microwave</text>
<text x="409.0" y="295.4" font-size="13.2" fill="#a62ba8" stroke="#a62ba8" stroke-width="0.35" textLength="56.1" lengthAdjust="spacingAndGlyphs">3-30 GHz</text>
<text x="335.9" y="323.4" font-size="13.2" fill="#9088d8" stroke="#9088d8" stroke-width="0.35" textLength="84.1" lengthAdjust="spacingAndGlyphs">Mobile Phone</text>
<text x="342.7" y="338.0" font-size="13.2" fill="#9088d8" stroke="#9088d8" stroke-width="0.35" textLength="70.7" lengthAdjust="spacingAndGlyphs">1.9-2.2 GHz</text>
<text x="335.3" y="407.5" font-size="13.2" fill="#8b78dc" stroke="#8b78dc" stroke-width="0.35" textLength="82.1" lengthAdjust="spacingAndGlyphs">Smart Meters</text>
<text x="336.7" y="422.5" font-size="13.2" fill="#8b78dc" stroke="#8b78dc" stroke-width="0.35" textLength="79.0" lengthAdjust="spacingAndGlyphs">0.9-2.45 GHz</text>
<text x="380.0" y="452.7" font-size="13.2" fill="#a070d8" stroke="#a070d8" stroke-width="0.35" textLength="31.6" lengthAdjust="spacingAndGlyphs">Wi-Fi</text>
<text x="359.8" y="468.0" font-size="13.2" fill="#a070d8" stroke="#a070d8" stroke-width="0.35" textLength="72.0" lengthAdjust="spacingAndGlyphs">2.4-2.5 GHz</text>
<text x="365.5" y="483.6" font-size="13.2" fill="#a070d8" stroke="#a070d8" stroke-width="0.35" textLength="60.5" lengthAdjust="spacingAndGlyphs">5-5.8 GHz</text>
<text x="364.7" y="516.0" font-size="13.2" fill="#9e50c8" stroke="#9e50c8" stroke-width="0.35" textLength="97.1" lengthAdjust="spacingAndGlyphs">Remote Control</text>
<text x="389.2" y="531.0" font-size="13.2" fill="#9e50c8" stroke="#9e50c8" stroke-width="0.35" textLength="47.5" lengthAdjust="spacingAndGlyphs">5.8 GHz</text>
<text x="630.2" y="280.0" font-size="13.2" fill="#8a8a8c" stroke="#8a8a8c" stroke-width="0.35" textLength="128.8" lengthAdjust="spacingAndGlyphs">Diagnostic Radiation</text>
<text x="666.8" y="295.4" font-size="13.2" fill="#8a8a8c" stroke="#8a8a8c" stroke-width="0.35" textLength="54.9" lengthAdjust="spacingAndGlyphs">5-50 EHz</text>
<text x="732.7" y="327.0" font-size="13.2" fill="#555555" stroke="#555555" stroke-width="0.35" textLength="74.6" lengthAdjust="spacingAndGlyphs">Therapeutic</text>
<text x="740.7" y="342.4" font-size="13.2" fill="#555555" stroke="#555555" stroke-width="0.35" textLength="58.6" lengthAdjust="spacingAndGlyphs">Radiation</text>
<text x="724.9" y="357.6" font-size="13.2" fill="#555555" stroke="#555555" stroke-width="0.35" textLength="90.2" lengthAdjust="spacingAndGlyphs">500-5,000 EHz</text>
</svg></body></html>
